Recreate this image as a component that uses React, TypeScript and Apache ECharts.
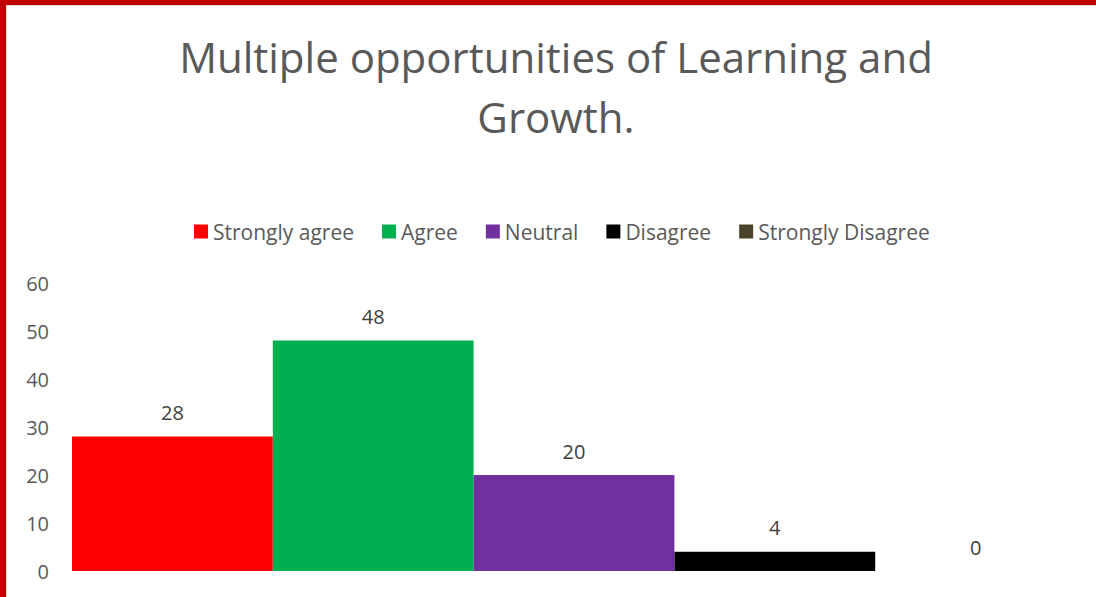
import React, { useEffect, useRef } from "react";
import * as echarts from "echarts";

const categories = [""];
const seriesNames = ["Strongly agree", "Agree", "Neutral", "Disagree", "Strongly Disagree"];
const seriesValues = [28, 48, 20, 4, 0];
const seriesColors = ["#FF0000", "#00B050", "#7030A0", "#000000", "#49432A"];
const yTicks = [0, 10, 20, 30, 40, 50, 60];

const FONT = "Open Sans";

export default function App() {
  const ref = useRef<HTMLDivElement>(null);
  useEffect(() => {
    document.body.style.margin = "0";
    const chart = echarts.init(ref.current!, undefined, { renderer: "svg" });
    chart.setOption({
      animation: false,
      backgroundColor: "#FFFFFF",
      textStyle: { fontFamily: FONT },
      title: {
        text: "Multiple opportunities of Learning and\nGrowth.",
        left: 551,
        textAlign: "center",
        top: 21,
        textStyle: { fontFamily: FONT, fontSize: 42, fontWeight: "normal", color: "#595959", lineHeight: 60 },
      },
      legend: {
        top: 216,
        left: 189,
        itemWidth: 14,
        itemHeight: 14,
        itemGap: 28,
        icon: "rect",
        textStyle: { fontFamily: FONT, fontSize: 21, color: "#595959" },
        data: seriesNames,
      },
      grid: { left: 72, right: 20, top: 283, bottom: 26, containLabel: false },
      xAxis: {
        type: "category",
        data: categories,
        axisLine: { show: false },
        axisTick: { show: false },
        axisLabel: { show: false },
      },
      yAxis: {
        type: "value",
        min: yTicks[0],
        max: yTicks[yTicks.length - 1],
        interval: 10,
        splitLine: { show: false },
        axisLine: { show: false },
        axisTick: { show: false },
        axisLabel: { fontFamily: FONT, fontSize: 20, color: "#595959", margin: 23 },
      },
      series: seriesNames.map((name, i) => ({
        name,
        type: "bar",
        data: [seriesValues[i]],
        barGap: "0%",
        barCategoryGap: "0%",
        itemStyle: { color: seriesColors[i] },
        label: {
          show: true,
          position: "top",
          distance: 14,
          fontFamily: FONT,
          fontSize: 20,
          color: "#404040",
        },
      })),
      graphic: [
        { type: "rect", shape: { x: 0, y: 0, width: 1096, height: 5 }, style: { fill: "#C00000" }, z: 100 },
        { type: "rect", shape: { x: 0, y: 0, width: 6, height: 597 }, style: { fill: "#C00000" }, z: 100 },
        { type: "rect", shape: { x: 6, y: 5, width: 1, height: 592 }, style: { fill: "#D9D9D9" }, z: 100 },
        { type: "rect", shape: { x: 6, y: 5, width: 1090, height: 1 }, style: { fill: "#D9D9D9" }, z: 100 },
      ],
    });
    return () => chart.dispose();
  }, []);
  return <div ref={ref} style={{ width: 1096, height: 597 }} />;
}
